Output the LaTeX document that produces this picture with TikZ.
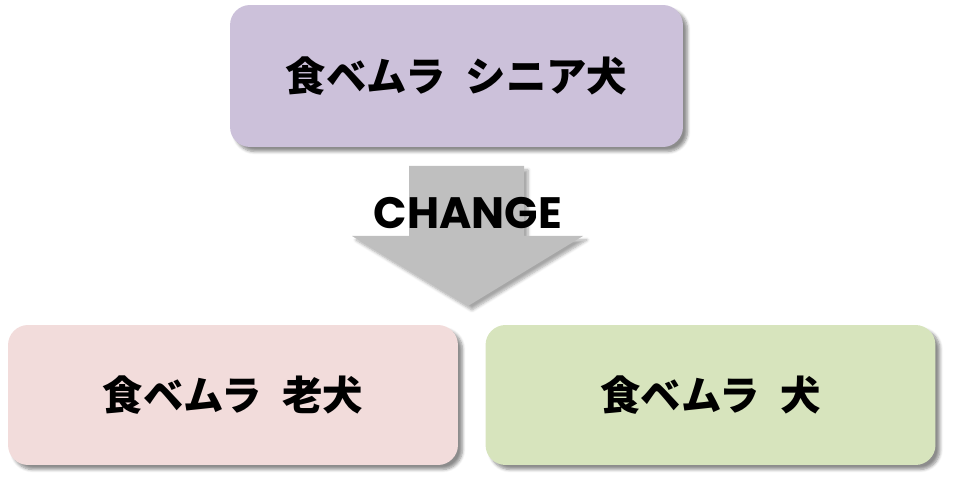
\documentclass[tikz,border=0pt]{standalone}
\usepackage{fontspec}
\usepackage{tikz}
\usetikzlibrary{positioning, shadows, shadows.blur}
\newfontfamily\jpfont{Noto Sans CJK JP}
\newfontfamily\popfont{Poppins}
\definecolor{seniorpurple}{RGB}{204,193,218}
\definecolor{oldpink}{RGB}{242,220,219}
\definecolor{doggreen}{RGB}{215,228,189}
\definecolor{arrowgray}{RGB}{191,191,191}
\newcommand{\jpgap}{\hspace{0.5em}}
\tikzset{
    namebox/.style = {rectangle, rounded corners=0.4cm, minimum width=9.0cm, minimum height=2.8cm, text centered, draw=none, blur shadow={shadow xshift=0.09cm, shadow yshift=-0.09cm, shadow blur steps=6, shadow opacity=45}, font=\jpfont\bfseries\fontsize{23}{27}\selectfont},
    changetext/.style = {font=\popfont\bfseries\fontsize{25}{30}\selectfont, text=black}
}

\begin{document}
\begin{tikzpicture}[x=0.02cm, y=-0.02cm]
    \useasboundingbox (0,0) rectangle (953,482);

    % Product name boxes
    \node[namebox, fill=seniorpurple, minimum width=9.06cm, minimum height=2.84cm] (senior) at (456.5,76) {食ベムラ\jpgap シニア犬};
    \node[namebox, fill=oldpink] (old) at (233,395) {食ベムラ\jpgap 老犬};
    \node[namebox, fill=doggreen] (dog) at (710.5,395) {食ベムラ\jpgap 犬};

    % Block arrow
    \fill[arrowgray, blur shadow={shadow xshift=0.08cm, shadow yshift=-0.08cm, shadow blur steps=6, shadow opacity=35}]
        (409,166) -- (524,166) -- (524,236) -- (583,236) -- (468,306) -- (352,236) -- (409,236) -- cycle;
    \node[changetext] (change) at (468,213) {CHANGE};
\end{tikzpicture}
\end{document}
